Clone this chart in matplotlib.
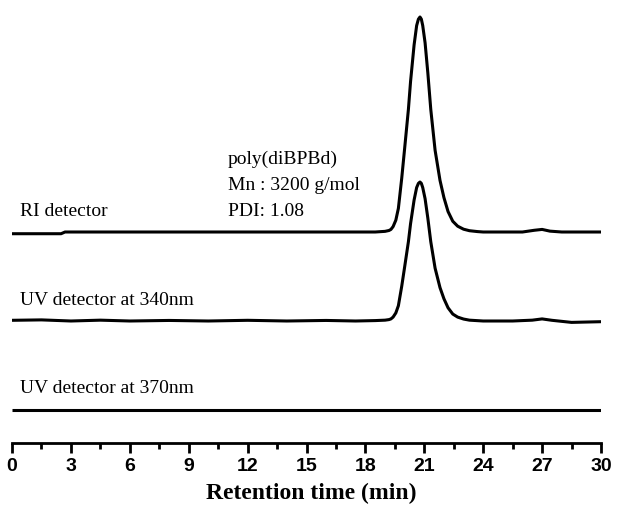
import matplotlib
matplotlib.use("Agg")
import matplotlib.pyplot as plt
from matplotlib.ticker import MultipleLocator

# Retention time samples (min) and normalised detector signals
ri_time = [0, 2.5, 2.7, 6, 10, 14, 17, 18.5, 19.0, 19.2, 19.3, 19.41, 19.55, 19.68,
           19.85, 20.0, 20.19, 20.3, 20.48, 20.61, 20.7, 20.78, 20.85, 20.92, 21.04,
           21.18, 21.33, 21.55, 21.80, 22.0, 22.21, 22.45, 22.7, 23.0, 23.3, 23.7,
           24.0, 26.0, 26.6, 27.0, 27.4, 28.0, 30.0]
ri_signal = [-0.008, -0.008, 0.0, 0.0, 0.0, 0.0, 0.0, 0.0, 0.003, 0.007, 0.012, 0.025,
             0.055, 0.11, 0.25, 0.39, 0.57, 0.70, 0.87, 0.96, 0.99, 1.0, 0.99, 0.96,
             0.88, 0.74, 0.57, 0.38, 0.24, 0.16, 0.095, 0.05, 0.027, 0.013, 0.006,
             0.002, 0.0, 0.0, 0.008, 0.012, 0.004, 0.0, 0.0]

uv340_time = [0, 1.5, 3, 4.5, 6, 8, 10, 12, 14, 16, 17.5, 18.5, 19.0, 19.2, 19.3,
              19.41, 19.55, 19.68, 19.85, 20.0, 20.19, 20.3, 20.48, 20.61, 20.7,
              20.78, 20.85, 20.92, 21.04, 21.18, 21.33, 21.55, 21.80, 22.0, 22.21,
              22.45, 22.7, 23.0, 23.3, 24.0, 25.5, 26.5, 27.0, 27.5, 28.5, 30.0]
uv340_signal = [0.005, 0.008, 0.0, 0.006, 0.0, 0.004, 0.0, 0.005, 0.0, 0.004, 0.0,
                0.003, 0.006, 0.01, 0.015, 0.028, 0.058, 0.11, 0.25, 0.39, 0.57,
                0.70, 0.87, 0.96, 0.99, 1.0, 0.99, 0.96, 0.88, 0.74, 0.57, 0.38,
                0.24, 0.16, 0.095, 0.05, 0.028, 0.014, 0.006, 0.0, 0.0, 0.006,
                0.015, 0.005, -0.01, -0.005]

uv370_time = [0, 10, 20, 30]
uv370_signal = [0.0, 0.0, 0.0, 0.0]

trace_labels = ["RI detector", "UV detector at 340nm", "UV detector at 370nm"]
note_lines = ["poly(diBPBd)", "Mn : 3200 g/mol", "PDI: 1.08"]

# vertical placement of each trace (baseline, peak height)
RI_BASE, RI_HEIGHT = 211, 215
UV340_BASE, UV340_HEIGHT = 122, 139
UV370_BASE = 33

fig = plt.figure(figsize=(6.17, 5.11), dpi=100)
ax = fig.add_axes([12 / 617, 68 / 511, 589 / 617, 443 / 511])

style = dict(color="black", lw=2.2, solid_joinstyle="round", solid_capstyle="butt")
ax.plot(ri_time, [RI_BASE + RI_HEIGHT * s for s in ri_signal], **style)
ax.plot(uv340_time, [UV340_BASE + UV340_HEIGHT * s for s in uv340_signal], **style)
ax.plot(uv370_time, [UV370_BASE + s for s in uv370_signal], **style)

ax.set_xlim(0, 30)
ax.set_ylim(0, 443)

serif = "Liberation Serif"
text_size = 14
label_y = [RI_BASE + 21, UV340_BASE + 21, UV370_BASE + 22]
for lab, ly in zip(trace_labels, label_y):
    ax.text(0.4, ly, lab, family=serif, fontsize=text_size, va="center", ha="left")

for i, line in enumerate(note_lines):
    ax.text(11.0, 284 - 26 * i, line, family=serif, fontsize=text_size, va="center", ha="left")

for side in ["top", "right", "left"]:
    ax.spines[side].set_visible(False)
ax.spines["bottom"].set_linewidth(2.0)
ax.set_yticks([])

ax.xaxis.set_major_locator(MultipleLocator(3))
ax.xaxis.set_minor_locator(MultipleLocator(1.5))
ax.tick_params(axis="x", which="major", length=7, width=2, direction="out", pad=4)
ax.tick_params(axis="x", which="minor", length=4, width=2, direction="out")

for t in ax.get_xticklabels():
    t.set_family(["Liberation Sans Narrow", "Liberation Sans", "DejaVu Sans"])
    t.set_fontweight("bold")
    t.set_fontsize(14)

ax.set_xlabel("Retention time (min)", family=serif, fontweight="bold", fontsize=17, labelpad=2)
ax.xaxis.set_label_coords(0.508, -0.089)

fig.savefig("out.png", dpi=100)
